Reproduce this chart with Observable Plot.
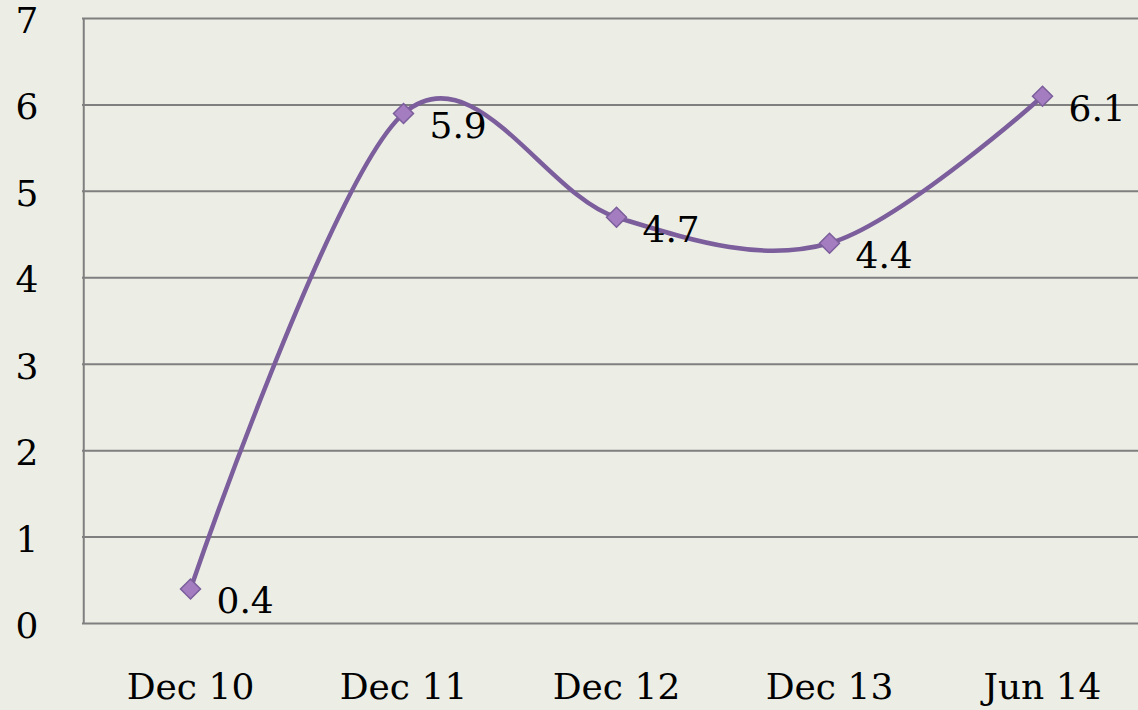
<!DOCTYPE html>
<html>
<head>
<meta charset="utf-8">
<script src="https://cdn.jsdelivr.net/npm/d3@7"></script>
<script src="https://cdn.jsdelivr.net/npm/@observablehq/plot@0.6"></script>
<style>
  html, body { margin: 0; padding: 0; background: #eceee6; }
  #chart svg { display: block; }
</style>
</head>
<body>
<div id="chart"></div>
<script>
// Period labels along the horizontal axis
const periods = ["Dec 10", "Dec 11", "Dec 12", "Dec 13", "Jun 14"];
// Value recorded for each period
const values = [0.4, 5.9, 4.7, 4.4, 6.1];
// Value-axis ticks
const yTicks = [0, 1, 2, 3, 4, 5, 6, 7];

const data = periods.map((p, i) => ({period: p, value: values[i]}));

const font = "'DejaVu Serif', 'Liberation Serif', serif";
const lineColor = "#7b5e9b";
const markerFill = "#a47cc0";
const gridColor = "#7f7f7f";

// Category slots are 213.5px wide; the last slot runs past the right edge.
const halfSlot = 106.75;

const chart = Plot.plot({
  width: 1138,
  height: 710,
  marginLeft: 82,
  marginRight: 0,
  marginTop: 18,
  marginBottom: 87,
  style: {background: "#eceee6", fontFamily: font, color: "#000"},
  x: {type: "point", domain: periods, range: [82 + halfSlot, 82 + 9 * halfSlot], padding: 0, label: null},
  y: {domain: [0, 7], label: null},
  marks: [
    Plot.ruleY(yTicks, {stroke: gridColor, strokeWidth: 2, strokeOpacity: 1}),
    Plot.ruleX([periods[0]], {dx: -halfSlot, stroke: gridColor, strokeWidth: 2, strokeOpacity: 1}),
    Plot.axisY({ticks: yTicks, tickSize: 0, tickPadding: 44, fontSize: 36, dy: 3, tickFormat: d => String(d)}),
    Plot.axisX({tickSize: 0, tickPadding: 50, fontSize: 36}),
    Plot.line(data, {x: "period", y: "value", curve: "cardinal", stroke: lineColor, strokeWidth: 4.5}),
    Plot.dot(data, {x: "period", y: "value", symbol: "diamond2", r: 9, fill: markerFill, stroke: lineColor, strokeWidth: 1.5}),
    Plot.text(data, {x: "period", y: "value", text: d => String(d.value), textAnchor: "start", dx: 26, dy: 13, fontSize: 36, fill: "#000"})
  ]
});

document.getElementById("chart").appendChild(chart);
</script>
</body>
</html>
